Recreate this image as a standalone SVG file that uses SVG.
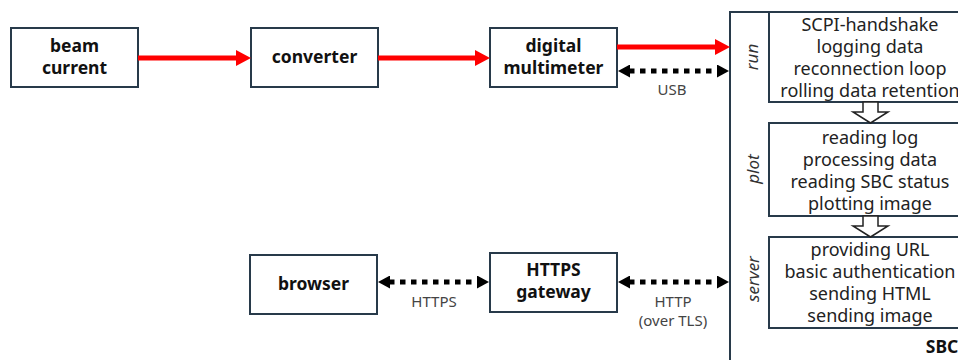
<svg xmlns="http://www.w3.org/2000/svg" width="958" height="360" viewBox="0 0 958 360">
  <style>
    .box { fill: #ffffff; stroke: #283a4a; stroke-width: 2; }
    .lbl { font-family: "Noto Sans", "Noto Sans CJK JP", sans-serif; font-weight: bold; font-size: 17.5px; fill: #111; text-anchor: middle; }
    .task { font-family: "Noto Sans", "Noto Sans CJK JP", sans-serif; font-size: 18px; fill: #222; text-anchor: middle; }
    .proc { font-family: "Noto Sans", "Noto Sans CJK JP", sans-serif; font-style: italic; font-size: 17px; fill: #333; text-anchor: middle; }
    .conn { font-family: "Noto Sans", "Noto Sans CJK JP", sans-serif; font-size: 15px; fill: #444; text-anchor: middle; }
    .signal { stroke: #ff0000; stroke-width: 5; fill: none; }
    .link { stroke: #000; stroke-width: 5; stroke-dasharray: 5.5 5.5; fill: none; }
    .flow { fill: #ffffff; stroke: #222; stroke-width: 1.5; stroke-linejoin: miter; }
  </style>
  <defs>
    <marker id="redHead" viewBox="0 0 15 16" refX="1" refY="8" markerWidth="15" markerHeight="16" markerUnits="userSpaceOnUse" orient="auto">
      <path d="M0,0 L15,8 L0,16 z" fill="#ff0000"/>
    </marker>
    <marker id="blackHead" viewBox="0 0 12 13" refX="1" refY="6.5" markerWidth="12" markerHeight="13" markerUnits="userSpaceOnUse" orient="auto-start-reverse">
      <path d="M0,0 L12,6.5 L0,13 z" fill="#000"/>
    </marker>
  </defs>

  <!-- SBC container and its processes -->
  <g id="sbc">
    <rect class="box" x="730" y="12" width="260" height="360"/>
    <text class="lbl" x="942" y="353" text-anchor="start">SBC</text>
  </g>
  <g id="run">
    <rect class="box" x="769" y="12" width="203" height="90"/>
    <text class="proc" transform="translate(758,57) rotate(-90)">run</text>
    <text class="task" x="870" y="31">SCPI-handshake</text>
    <text class="task" x="870" y="53">logging data</text>
    <text class="task" x="870" y="75">reconnection loop</text>
    <text class="task" x="870" y="97">rolling data retention</text>
  </g>
  <g id="plot">
    <rect class="box" x="769" y="123" width="203" height="93"/>
    <text class="proc" transform="translate(759,169) rotate(-90)">plot</text>
    <text class="task" x="870" y="144">reading log</text>
    <text class="task" x="870" y="166">processing data</text>
    <text class="task" x="870" y="188">reading SBC status</text>
    <text class="task" x="870" y="210">plotting image</text>
  </g>
  <g id="server">
    <rect class="box" x="769" y="237" width="203" height="91"/>
    <text class="proc" transform="translate(759,279) rotate(-90)">server</text>
    <text class="task" x="870" y="256">providing URL</text>
    <text class="task" x="870" y="278">basic authentication</text>
    <text class="task" x="870" y="300">sending HTML</text>
    <text class="task" x="870" y="322">sending image</text>
  </g>

  <!-- external nodes -->
  <g id="beam-current">
    <rect class="box" x="11" y="28" width="127" height="59"/>
    <text class="lbl" x="74.5" y="52">beam</text>
    <text class="lbl" x="74.5" y="74">current</text>
  </g>
  <g id="converter">
    <rect class="box" x="251" y="28" width="127" height="59"/>
    <text class="lbl" x="314.5" y="63">converter</text>
  </g>
  <g id="digital-multimeter">
    <rect class="box" x="490" y="28" width="127" height="59"/>
    <text class="lbl" x="553.5" y="52">digital</text>
    <text class="lbl" x="553.5" y="74">multimeter</text>
  </g>
  <g id="browser">
    <rect class="box" x="250" y="255" width="127" height="59"/>
    <text class="lbl" x="313.5" y="290">browser</text>
  </g>
  <g id="https-gateway">
    <rect class="box" x="490" y="253" width="127" height="59"/>
    <text class="lbl" x="553.5" y="276">HTTPS</text>
    <text class="lbl" x="553.5" y="298">gateway</text>
  </g>

  <!-- connectors -->
  <g id="connectors">
    <line class="signal" x1="138" y1="58" x2="237" y2="58" marker-end="url(#redHead)"/>
    <line class="signal" x1="378" y1="58" x2="476" y2="58" marker-end="url(#redHead)"/>
    <line class="signal" x1="617" y1="47" x2="716" y2="47" marker-end="url(#redHead)"/>

    <line class="link" x1="629" y1="71" x2="718" y2="71" marker-start="url(#blackHead)" marker-end="url(#blackHead)"/>
    <line class="link" x1="389" y1="282" x2="478" y2="282" marker-start="url(#blackHead)" marker-end="url(#blackHead)"/>
    <line class="link" x1="629" y1="282" x2="718" y2="282" marker-start="url(#blackHead)" marker-end="url(#blackHead)"/>

    <text class="conn" x="672" y="95">USB</text>
    <text class="conn" x="434" y="307">HTTPS</text>
    <text class="conn" x="673" y="307">HTTP</text>
    <text class="conn" x="673" y="326">(over TLS)</text>

    <path class="flow" d="M863,102 L878,102 L878,112 L888,112 L870.5,123 L853,112 L863,112 z"/>
    <path class="flow" d="M863,216 L878,216 L878,226 L888,226 L870.5,237 L853,226 L863,226 z"/>
  </g>
</svg>
